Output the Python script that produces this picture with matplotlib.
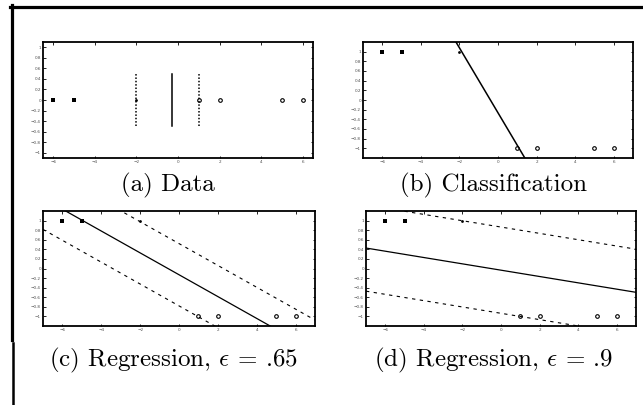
import numpy as np
import matplotlib
matplotlib.use("Agg")
import matplotlib.pyplot as plt
from matplotlib.lines import Line2D

plt.rcParams["mathtext.fontset"] = "cm"

# data points (two classes)
x_pos = [-6, -5]          # squares
x_sv = [-2]               # support point of the + class
x_neg = [1, 2, 5, 6]      # circles

# (a) separating boundary and margins along the line
sep_a = -0.3
margin_a = [-2, 1]

# (b) classification line y = w*x + b
w_b, b_b = -0.672, -0.265

# (c), (d) regression lines and tube widths
w_c, b_c, eps_c = -0.228, -0.13, 0.65
w_d, b_d, eps_d = -0.066, -0.035, 0.9

xticks = [-6, -4, -2, 0, 2, 4, 6]
yticks = [-1, -0.8, -0.6, -0.4, -0.2, 0, 0.2, 0.4, 0.6, 0.8, 1]
ytick_labels = ["\u22121", "\u22120.8", "\u22120.6", "\u22120.4", "\u22120.2", "0",
                "0.2", "0.4", "0.6", "0.8", "1"]
xtick_labels = ["\u22126", "\u22124", "\u22122", "0", "2", "4", "6"]

captions = ["(a) Data",
            "(b) Classification",
            r"(c) Regression, $\epsilon$ = .65",
            r"(d) Regression, $\epsilon$ = .9"]

W, H = 643, 405
fig = plt.figure(figsize=(W / 100, H / 100), dpi=100)


def px_axes(x0, y0, x1, y1):
    return fig.add_axes([x0 / W, 1 - y1 / H, (x1 - x0) / W, (y1 - y0) / H])


def style(ax, xlim, ylim):
    ax.set_xlim(*xlim)
    ax.set_ylim(*ylim)
    ax.set_xticks(xticks)
    ax.set_xticklabels(xtick_labels)
    ax.set_yticks(yticks)
    ax.set_yticklabels(ytick_labels)
    ax.tick_params(direction="in", length=1.8, width=0.6, labelsize=3,
                   labelcolor="0.3", top=True, right=True, pad=1.5)
    for s in ax.spines.values():
        s.set_linewidth(1.3)


def points(ax, y_pos, y_neg):
    ax.plot(x_pos, [y_pos] * len(x_pos), "s", color="black", ms=2.2, mew=0)
    ax.plot(x_sv, [y_pos] * len(x_sv), "o", color="black", ms=2.0, mew=0)
    ax.plot(x_neg, [y_neg] * len(x_neg), "o", mfc="none", mec="black", ms=2.6, mew=0.8)


# (a) Data
ax = px_axes(43, 42, 313, 158)
style(ax, (-6.5, 6.5), (-1.1, 1.1))
ax.plot([sep_a, sep_a], [-0.5, 0.5], color="black", lw=1.1)
for m in margin_a:
    ax.plot([m, m], [-0.5, 0.5], color="black", lw=1.1, ls=(0, (1, 1.2)))
points(ax, 0, 0)

# (b) Classification
ax = px_axes(363, 42, 633, 158)
style(ax, (-7, 7), (-1.2, 1.2))
xs = np.array([-7, 7])
ax.plot(xs, w_b * xs + b_b, color="black", lw=1.1)
points(ax, 1, -1)

# (c) Regression eps=.65
ax = px_axes(43, 211, 315, 326)
style(ax, (-7, 7), (-1.2, 1.2))
ax.plot(xs, w_c * xs + b_c, color="black", lw=0.9)
ax.plot(xs, w_c * xs + b_c + eps_c, color="black", lw=0.8, ls=(0, (3, 4)))
ax.plot(xs, w_c * xs + b_c - eps_c, color="black", lw=0.8, ls=(0, (3, 4)))
points(ax, 1, -1)

# (d) Regression eps=.9
ax = px_axes(366, 211, 636, 326)
style(ax, (-7, 7), (-1.2, 1.2))
ax.plot(xs, w_d * xs + b_d, color="black", lw=0.9)
ax.plot(xs, w_d * xs + b_d + eps_d, color="black", lw=0.8, ls=(0, (3, 4)))
ax.plot(xs, w_d * xs + b_d - eps_d, color="black", lw=0.8, ls=(0, (3, 4)))
points(ax, 1, -1)

# captions
for (cx, cy), txt in zip([(168, 191), (493, 191), (173, 366), (494, 366)], captions):
    fig.text(cx / W, 1 - cy / H, txt, ha="center", va="baseline", fontsize=18,
             family="cmr10")

# page frame lines
fig.add_artist(Line2D([10 / W, 1], [1 - 6.5 / H, 1 - 6.5 / H], color="black", lw=2.3))
fig.add_artist(Line2D([11.5 / W, 11.5 / W], [1 - 5 / H, 1 - 340 / H], color="black", lw=2.3))
fig.add_artist(Line2D([12.5 / W, 12.5 / W], [1 - 343 / H, 0], color="black", lw=1.8))

fig.savefig("out.png", dpi=100)
